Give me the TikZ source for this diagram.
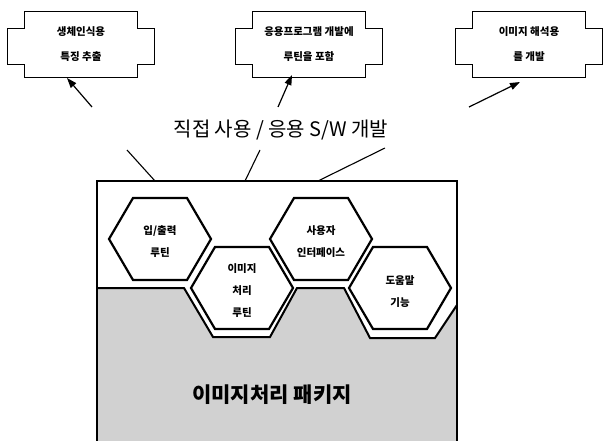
\documentclass[tikz,border=0pt]{standalone}
\usepackage{fontspec}
\setmainfont{Noto Sans CJK KR}
\usetikzlibrary{arrows.meta}
\newcommand\crossbox[1]{(#1.center) ++(-56.5,-33) -- ++(113,0) -- ++(0,17) -- ++(17,0) -- ++(0,36) -- ++(-17,0) -- ++(0,13) -- ++(-113,0) -- ++(0,-13) -- ++(-17,0) -- ++(0,-36) -- ++(17,0) -- cycle}
\newcommand\hexa[1]{(#1.center) ++(-51,0) -- ++(24,-41) -- ++(54,0) -- ++(24,41) -- ++(-24,41) -- ++(-54,0) -- cycle}
\begin{document}
\begin{tikzpicture}[x=1pt,y=-1pt,
  boxtxt/.style={font=\fontsize{10.5}{25}\selectfont\bfseries, align=center, inner sep=0pt},
  hextxt/.style={font=\fontsize{10.5}{22}\selectfont\bfseries, align=center, inner sep=0pt},
  boxline/.style={draw=black, line width=1.1pt},
  hexline/.style={draw=black, fill=white, line width=2.2pt, line join=miter},
  arr/.style={-{Triangle[length=10pt,width=7pt]}, line width=1.2pt},
  conn/.style={line width=1.1pt}]
\useasboundingbox (0,0) rectangle (603,441);
% top boxes
\node[boxtxt] (b1) at (81,44.5) {생체인식용\\특징 추출};
\node[boxtxt] (b2) at (309,44.5) {응용프로그램 개발에\\루틴을 포함};
\node[boxtxt] (b3) at (529,44.5) {이미지 해석용\\를 개발};
\draw[boxline] \crossbox{b1};
\draw[boxline] \crossbox{b2};
\draw[boxline] \crossbox{b3};
% arrows
\coordinate (a1s) at (92,107); \coordinate (a1e) at (67,78);
\coordinate (a2s) at (278,107); \coordinate (a2e) at (292,75);
\coordinate (a3s) at (469,107); \coordinate (a3e) at (520,82);
\draw[arr] (a1s) -- (a1e);
\draw[arr] (a2s) -- (a2e);
\draw[arr] (a3s) -- (a3e);
% label
\node[font=\fontsize{20}{22}\selectfont, inner sep=0pt] (lbl) at (281,130) {직접 사용 / 응용 S/W 개발};
\coordinate (l1a) at (155,181); \coordinate (l1b) at (127,150);
\coordinate (l2a) at (245,181); \coordinate (l2b) at (260,150);
\coordinate (l3a) at (318,181); \coordinate (l3b) at (385,148);
\draw[conn] (l1a) -- (l1b);
\draw[conn] (l2a) -- (l2b);
\draw[conn] (l3a) -- (l3b);
% gray package region
\fill[black!18] (97,288) -- (184,288) -- (213,337) -- (270,337) -- (297,288) -- (344,288) -- (370,338) -- (435,338) -- (457,305) -- (457,441) -- (97,441) -- cycle;
\draw[line width=2pt, line join=miter] (97,288) -- (184,288) -- (213,337) -- (270,337) -- (297,288) -- (344,288) -- (370,338) -- (435,338) -- (457,305);
% outer box
\draw[line width=1.6pt] (97,441) -- (97,181) -- (457,181) -- (457,441);
% hexagons
\coordinate (hc1) at (160,239);
\coordinate (hc2) at (242,288);
\coordinate (hc3) at (321,239);
\coordinate (hc4) at (400,288);
\path[hexline] \hexa{hc1};
\path[hexline] \hexa{hc2};
\path[hexline] \hexa{hc3};
\path[hexline] \hexa{hc4};
\node[hextxt] (h1) at (160,242) {입/출력\\루틴};
\node[hextxt] (h2) at (242,291) {이미지\\처리\\루틴};
\node[hextxt] (h3) at (321,242) {사용자\\인터페이스};
\node[hextxt] (h4) at (400,292) {도움말\\기능};
% main label
\node[font=\fontsize{21}{24}\selectfont\bfseries, inner sep=0pt] (pkg) at (272,395) {이미지처리 패키지};
\end{tikzpicture}
\end{document}
